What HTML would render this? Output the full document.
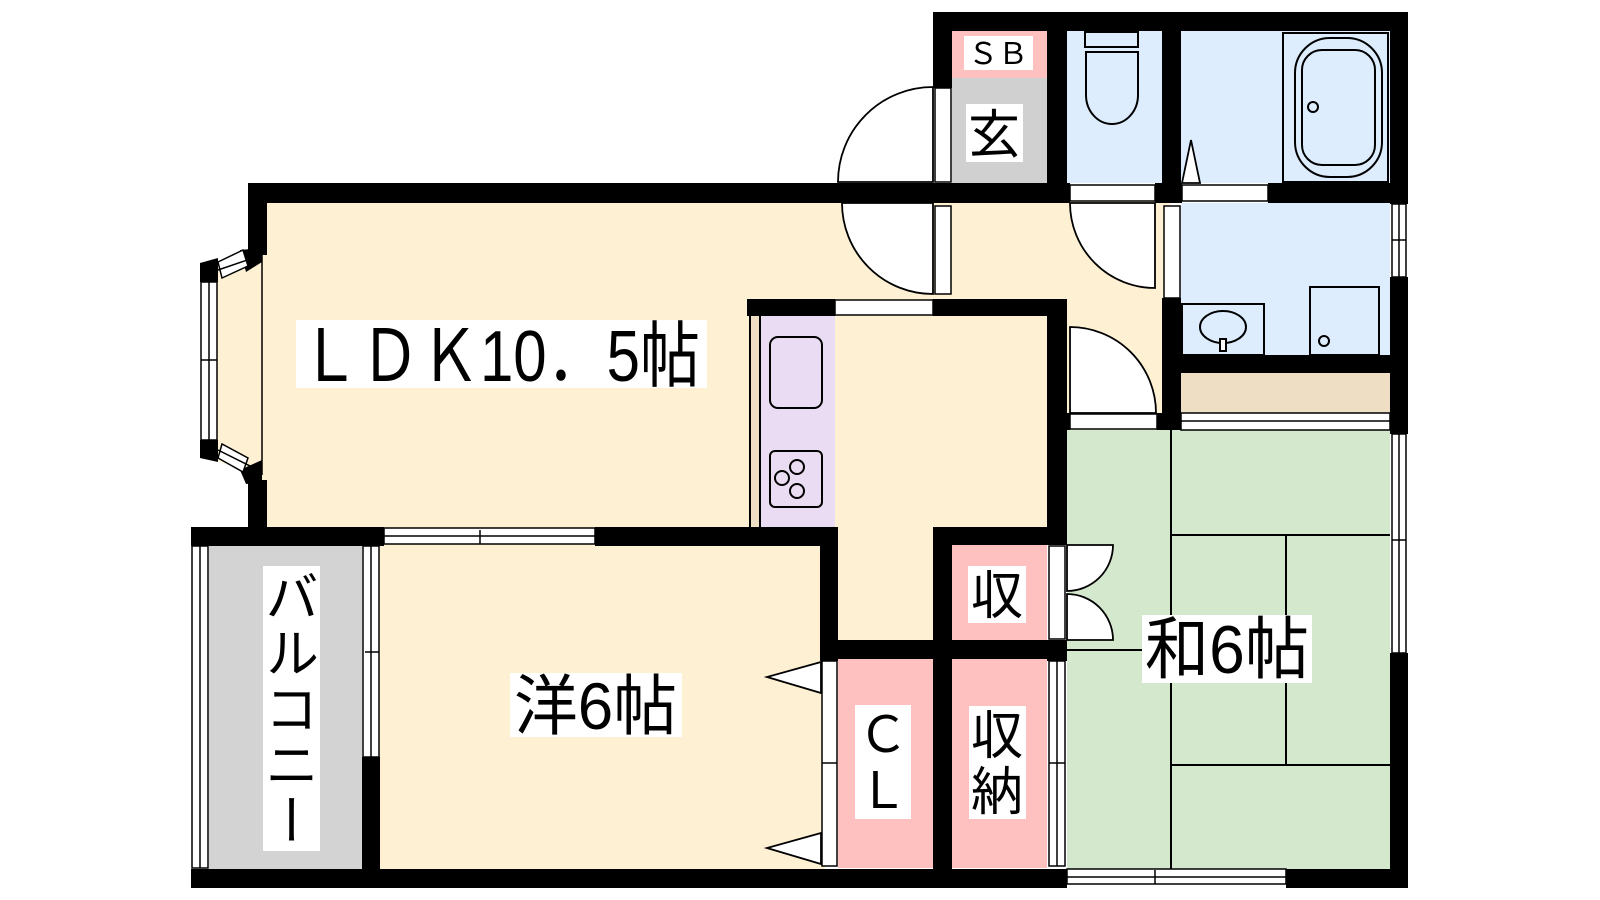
<!DOCTYPE html>
<html><head><meta charset="utf-8"><style>
html,body{margin:0;padding:0;background:#fff;}
body{width:1600px;height:900px;position:relative;overflow:hidden;font-family:"Liberation Sans","Noto Sans CJK JP",sans-serif;}
svg{position:absolute;left:0;top:0;}
.v{position:absolute;background:#fff;color:#000;font-family:"Noto Sans CJK JP",sans-serif;text-align:center;line-height:1;}
</style></head><body>
<svg width="1600" height="900" viewBox="0 0 1600 900" font-family="Liberation Sans, Noto Sans CJK JP, sans-serif">
<!-- fills -->
<g stroke="none">
<rect x="250" y="190" width="820" height="340" fill="#FEF1D3"/>
<rect x="930" y="190" width="240" height="240" fill="#FEF1D3"/>
<rect x="830" y="520" width="110" height="130" fill="#FEF1D3"/>
<rect x="375" y="540" width="450" height="330" fill="#FEF1D3"/>
<polygon points="210,270 262,250 262,478 210,458" fill="#FEF1D3"/>
<rect x="209" y="545" width="153" height="324" fill="#D3D3D3"/>
<rect x="952" y="31" width="95" height="47" fill="#FFC0C0"/>
<rect x="952" y="78" width="95" height="105" fill="#D0D0D0"/>
<rect x="1067" y="31" width="95" height="152" fill="#DDEDFE"/>
<rect x="1181" y="31" width="209" height="152" fill="#DDEDFE"/>
<rect x="1181" y="203" width="209" height="152" fill="#DDEDFE"/>
<rect x="1181" y="373" width="209" height="40" fill="#EEDEC4"/>
<rect x="750" y="316" width="10" height="211" fill="#EEDEC4"/>
<rect x="760" y="316" width="75" height="211" fill="#EADDF3"/>
<rect x="1067" y="430" width="323" height="439" fill="#D3E8CD"/>
<rect x="838" y="659" width="95" height="209" fill="#FFC0C0"/>
<rect x="952" y="545" width="95" height="95" fill="#FFC0C0"/>
<rect x="952" y="659" width="95" height="209" fill="#FFC0C0"/>
</g>
<!-- tatami lines -->
<g stroke="#000" stroke-width="2" fill="none">
<line x1="1171" y1="430" x2="1171" y2="869"/>
<line x1="1171" y1="535" x2="1390" y2="535"/>
<line x1="1286" y1="535" x2="1286" y2="765"/>
<line x1="1171" y1="765" x2="1390" y2="765"/>
<line x1="1067" y1="650" x2="1171" y2="650"/>
<line x1="760" y1="316" x2="760" y2="527"/>
<line x1="750" y1="316" x2="750" y2="527"/>
</g>
<!-- door frames / openings (white with outline) -->
<g fill="#fff" stroke="#000" stroke-width="1.5">
<rect x="935" y="88" width="16" height="94"/>
<rect x="1070" y="185" width="85" height="16"/>
<rect x="1182" y="185" width="86" height="16"/>
<rect x="935" y="206" width="16" height="88"/>
<rect x="835" y="300" width="98" height="15"/>
<rect x="1164" y="206" width="16" height="92"/>
<rect x="1070" y="414" width="87" height="15"/>
<rect x="1049" y="546" width="16" height="93"/>
<rect x="822" y="661" width="15" height="205"/>
<!-- windows -->
<rect x="384" y="528" width="211" height="16"/>
<rect x="363" y="546" width="16" height="211"/>
<rect x="192" y="546" width="16" height="322"/>
<rect x="1049" y="661" width="16" height="205"/>
<rect x="1067" y="869" width="219" height="15"/>
<rect x="1392" y="204" width="14" height="73"/>
<rect x="1392" y="434" width="14" height="219"/>
<rect x="1181" y="413" width="209" height="17"/>
</g>
<g stroke="#000" stroke-width="1.5" fill="none">
<line x1="384" y1="536" x2="595" y2="536"/><line x1="480" y1="530" x2="480" y2="544"/>
<line x1="371" y1="546" x2="371" y2="757"/><line x1="365" y1="652" x2="379" y2="652"/>
<line x1="200" y1="546" x2="200" y2="868"/>
<line x1="1057" y1="661" x2="1057" y2="866"/><line x1="1049" y1="763" x2="1065" y2="763"/>
<line x1="1067" y1="877" x2="1286" y2="877"/><line x1="1155" y1="870" x2="1155" y2="884"/>
<line x1="1399" y1="204" x2="1399" y2="277"/><line x1="1392" y1="240" x2="1406" y2="240"/>
<line x1="1399" y1="434" x2="1399" y2="653"/><line x1="1392" y1="540" x2="1406" y2="540"/>
<line x1="1181" y1="421" x2="1390" y2="421"/>
<line x1="822" y1="763" x2="837" y2="763"/>
</g>
<!-- walls -->
<g fill="#000">
<rect x="933" y="12" width="475" height="19"/>
<rect x="933" y="12" width="19" height="76"/>
<rect x="1047" y="12" width="20" height="191"/>
<rect x="1162" y="12" width="19" height="191"/>
<rect x="1390" y="12" width="18" height="192"/>
<rect x="1390" y="277" width="18" height="157"/>
<rect x="1390" y="653" width="18" height="235"/>
<rect x="248" y="183" width="822" height="20"/>
<rect x="1155" y="183" width="27" height="20"/>
<rect x="1268" y="183" width="122" height="20"/>
<rect x="248" y="183" width="19" height="72"/>
<rect x="248" y="480" width="19" height="66"/>
<rect x="747" y="299" width="88" height="17"/>
<rect x="933" y="299" width="134" height="17"/>
<rect x="1047" y="299" width="20" height="246"/>
<rect x="1047" y="640" width="20" height="21"/>
<rect x="1162" y="298" width="19" height="132"/>
<rect x="1157" y="413" width="24" height="17"/>
<rect x="1047" y="413" width="23" height="17"/>
<rect x="1162" y="355" width="228" height="18"/>
<rect x="191" y="527" width="193" height="19"/>
<rect x="595" y="527" width="243" height="19"/>
<rect x="820" y="527" width="18" height="134"/>
<rect x="933" y="527" width="19" height="361"/>
<rect x="933" y="527" width="134" height="18"/>
<rect x="820" y="640" width="247" height="19"/>
<rect x="362" y="757" width="18" height="112"/>
<rect x="191" y="869" width="876" height="19"/>
<rect x="1286" y="869" width="122" height="19"/>
<!-- bay corners -->
<polygon points="200,263 218,258 218,282 200,282"/>
<polygon points="200,440 218,440 218,462 200,458"/>
<polygon points="240,250 262,248 262,262 246,272"/>
<polygon points="240,470 262,460 262,482 246,484"/>
</g>
<!-- bay window glass -->
<g fill="#fff" stroke="#000" stroke-width="1.5">
<rect x="201" y="282" width="16" height="158"/>
<polygon points="218,262 243,250 248,266 222,278"/>
<polygon points="218,458 243,472 248,458 222,444"/>
</g>
<g stroke="#000" stroke-width="1.5" fill="none">
<line x1="209" y1="282" x2="209" y2="440"/><line x1="201" y1="360" x2="217" y2="360"/>
<line x1="218" y1="270" x2="262" y2="255"/><line x1="218" y1="450" x2="262" y2="472"/>
<line x1="262" y1="255" x2="262" y2="475"/>
</g>
<!-- door swings -->
<g fill="#fff" stroke="#000" stroke-width="1.8">
<path d="M933,182 L838,182 A95,95 0 0 1 933,87 Z"/>
<path d="M933,203 L933,294 A91,91 0 0 1 842,203 Z"/>
<path d="M1155,203 L1155,288 A85,85 0 0 1 1070,203 Z"/>
<path d="M1070,413 L1070,327 A86,86 0 0 1 1156,413 Z"/>
<path d="M1067,545 L1113,545 A46,46 0 0 1 1067,591 Z"/>
<path d="M1067,640 L1113,640 A46,46 0 0 0 1067,594 Z"/>
<polygon points="821,662 767,677 821,693"/>
<polygon points="821,833 767,848 821,864"/>
<polygon points="1182,183 1191,140 1200,183"/>
</g>
<!-- fixtures -->
<g fill="none" stroke="#000" stroke-width="2">
<rect x="770" y="337" width="52" height="71" rx="8"/>
<rect x="770" y="451" width="52" height="56" rx="5"/>
<circle cx="782" cy="478" r="7"/><circle cx="797" cy="467" r="7"/><circle cx="797" cy="491" r="7"/>
<rect x="1085" y="32" width="53" height="15"/>
<path d="M1086,52 H1138 V95 A26,29 0 0 1 1086,95 Z"/>
<rect x="1283" y="33" width="105" height="149" fill="#DDEDFE"/>
<rect x="1295" y="38" width="87" height="139" rx="35"/>
<rect x="1302" y="50" width="73" height="115" rx="20"/>
<circle cx="1313" cy="107" r="5"/>
<rect x="1182" y="304" width="82" height="51"/>
<ellipse cx="1223" cy="327" rx="23" ry="16"/>
<rect x="1220" y="339" width="6" height="12" fill="#fff"/>
<rect x="1310" y="287" width="69" height="68"/>
<circle cx="1324" cy="341" r="5"/>
</g>
<!-- labels -->
<rect x="296" y="320" width="411" height="68" fill="#fff"/>
<text x="300" y="381" font-size="72" textLength="400" lengthAdjust="spacingAndGlyphs">ＬＤＫ10．5帖</text>
<rect x="510" y="673" width="172" height="64" fill="#fff"/>
<text x="514" y="729" font-size="66" textLength="163" lengthAdjust="spacingAndGlyphs">洋6帖</text>
<rect x="1142" y="615" width="170" height="68" fill="#fff"/>
<text x="1145" y="673" font-size="68" textLength="164" lengthAdjust="spacingAndGlyphs">和6帖</text>
<rect x="964" y="36" width="69" height="34" fill="#fff"/>
<text x="998" y="64" font-size="30" text-anchor="middle">ＳＢ</text>
<rect x="966" y="104" width="57" height="58" fill="#fff"/>
<text x="994" y="153" font-size="52" text-anchor="middle">玄</text>
<rect x="968" y="566" width="58" height="57" fill="#fff"/>
<text x="997" y="614" font-size="52" text-anchor="middle">収</text>
<rect x="969" y="706" width="57" height="113" fill="#fff"/>
<text x="997" y="754" font-size="52" text-anchor="middle">収</text>
<text x="997" y="810" font-size="52" text-anchor="middle">納</text>
<rect x="855" y="705" width="56" height="114" fill="#fff"/>
<text x="883" y="752" font-size="50" text-anchor="middle">Ｃ</text>
<text x="883" y="808" font-size="50" text-anchor="middle">Ｌ</text>
</svg>
<div class="v" style="left:263px;top:566px;width:57px;height:285px;writing-mode:vertical-rl;font-size:54px;letter-spacing:2px;display:flex;align-items:center;justify-content:center;">バルコニー</div>
</body></html>
